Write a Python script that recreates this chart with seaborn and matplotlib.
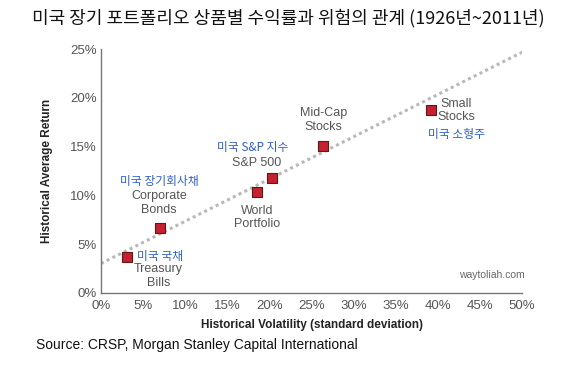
"""Risk vs return of long-run US portfolio asset classes (1926-2011)."""

import matplotlib
matplotlib.use("Agg")
import matplotlib.pyplot as plt
import seaborn as sns
import pandas as pd
from matplotlib.ticker import FuncFormatter


ASSETS = ["Treasury Bills", "Corporate Bonds", "World Portfolio",
          "S&P 500", "Mid-Cap Stocks", "Small Stocks"]
VOLATILITY = [3.05, 7.0, 18.5, 20.3, 26.4, 39.2]
AVG_RETURN = [3.65, 6.6, 10.3, 11.75, 15.1, 18.8]

TREND_X = [0, 50]
TREND_Y = [3.0, 24.7]

X_TICKS = [0, 5, 10, 15, 20, 25, 30, 35, 40, 45, 50]
Y_TICKS = [0, 5, 10, 15, 20, 25]

GRAY_TEXT = "#555555"
BLUE_TEXT = "#2f5fc4"
MARKER_RED = "#c8202f"

sns.set_theme(style="white")
plt.rcParams["font.family"] = ["Liberation Sans", "Noto Sans CJK KR", "DejaVu Sans"]
KR = ["Noto Sans CJK KR", "DejaVu Sans"]

df = pd.DataFrame({"asset": ASSETS, "volatility": VOLATILITY, "avg_return": AVG_RETURN})
trend = pd.DataFrame({"x": TREND_X, "y": TREND_Y})

fig = plt.figure(figsize=(5.77, 3.65), dpi=100)
ax = fig.add_axes([0.175, 0.198, 0.73, 0.667])

sns.lineplot(data=trend, x="x", y="y", ax=ax, color="#b8b8b8",
             linestyle=(0, (1, 1.1)), linewidth=2.2, zorder=1)
sns.scatterplot(data=df, x="volatility", y="avg_return", ax=ax, marker="s",
                s=60, color=MARKER_RED, edgecolor="#5a1a1a", linewidth=0.8, zorder=3)

ax.set_xlim(0, 50)
ax.set_ylim(0, 25)
ax.set_xticks(X_TICKS)
ax.set_yticks(Y_TICKS)
pct = FuncFormatter(lambda v, _: f"{v:.0f}%")
ax.xaxis.set_major_formatter(pct)
ax.yaxis.set_major_formatter(pct)
ax.tick_params(axis="both", direction="in", length=5, width=1, color="#777777",
               labelcolor=GRAY_TEXT, labelsize=9.5, pad=3)
ax.tick_params(axis="x", pad=5)
for side in ["top", "right"]:
    ax.spines[side].set_visible(False)
for side in ["left", "bottom"]:
    ax.spines[side].set_color("#777777")
    ax.spines[side].set_linewidth(1)

ax.set_xlabel("Historical Volatility (standard deviation)", fontsize=8.5,
              fontweight="bold", color="#222222", labelpad=5)
ax.set_ylabel("Historical Average Return", fontsize=8.5, fontweight="bold",
              color="#222222", labelpad=12)

# english labels
gray_labels = [
    ("Corporate\nBonds", 6.9, 9.2),
    ("Treasury\nBills", 6.8, 1.72),
    ("World\nPortfolio", 18.5, 7.7),
    ("S&P 500", 18.5, 13.36),
    ("Mid-Cap\nStocks", 26.4, 17.74),
    ("Small\nStocks", 42.2, 18.7),
]
for txt, x, y in gray_labels:
    ax.text(x, y, txt, ha="center", va="center", fontsize=9, color=GRAY_TEXT,
            linespacing=1.15)

# korean labels
blue_labels = [
    ("미국 장기회사채", 6.9, 11.4, "center"),
    ("미국 국채", 4.3, 3.7, "left"),
    ("미국 S&P 지수", 18.05, 14.87, "center"),
    ("미국 소형주", 42.2, 16.2, "center"),
]
for txt, x, y, ha in blue_labels:
    ax.text(x, y, txt, ha=ha, va="center", fontsize=8.5, color=BLUE_TEXT, family=KR)

ax.text(46.4, 1.83, "waytoliah.com", ha="center", va="center", fontsize=7.5,
        color="#666666")

fig.text(0.5, 0.95, "미국 장기 포트폴리오 상품별 수익률과 위험의 관계 (1926년~2011년)",
         ha="center", va="center", fontsize=13, color="#111111", family=KR)
fig.text(0.062, 0.055, "Source: CRSP, Morgan Stanley Capital International",
         ha="left", va="center", fontsize=10, color="#111111")

fig.savefig("out.png", dpi=100)
